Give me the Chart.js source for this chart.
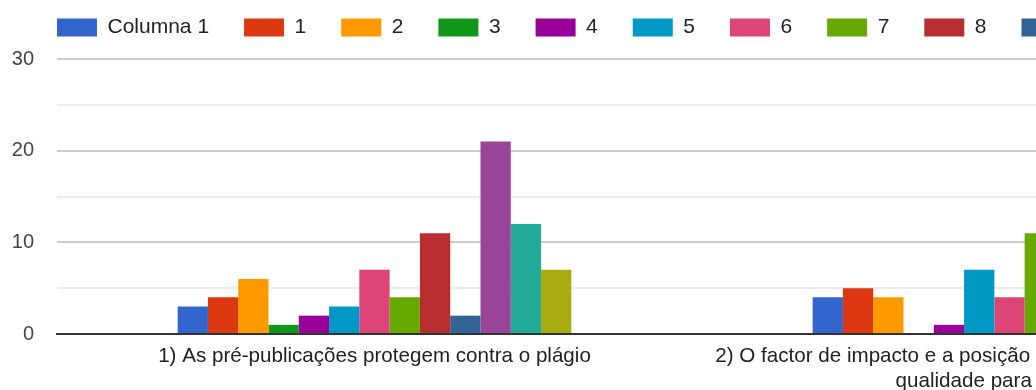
<!DOCTYPE html>
<html>
<head>
<meta charset="utf-8">
<script src="https://cdn.jsdelivr.net/npm/chart.js@4"></script>
<style>
  html, body { margin: 0; padding: 0; background: #fff; overflow: hidden; }
  #wrap { position: relative; width: 1527px; height: 390px; }
</style>
</head>
<body>
<div id="wrap"><canvas id="c"></canvas></div>
<script>
// ===== Grouped columns (cropped Google-style chart) =====
const categories = [
    '1) As pré-publicações protegem contra o plágio',
    ['2) O factor de impacto e a posição da revista são indicadores de', 'qualidade para um artigo']
];
const seriesNames = ['Columna 1', '1', '2', '3', '4', '5', '6', '7', '8', '9', '10', '11', '12'];
const seriesColors = ['#3366cc', '#dc3912', '#ff9900', '#109618', '#990099', '#0099c6', '#dd4477',
    '#66aa00', '#b82e2e', '#316395', '#994499', '#22aa99', '#aaaa11'];
// one value per category for each series
const q1Values = [3, 4, 6, 1, 2, 3, 7, 4, 11, 2, 21, 12, 7];
const q2Values = [4, 5, 4, 0, 1, 7, 4, 11, 5, 3, 2, 1, 0];
const yTicks = [0, 10, 20, 30];

const FONT = "'Liberation Sans', Arial, sans-serif";

const datasets = seriesNames.map((name, i) => ({
    label: name,
    data: [q1Values[i], q2Values[i]],
    backgroundColor: seriesColors[i],
    borderColor: seriesColors[i],
    borderWidth: 0,
    barPercentage: 1,
    categoryPercentage: 0.62
}));

// legend starts at the plot's left edge, not the canvas edge
const legendShift = {
    id: 'legendShift',
    afterLayout(chart) {
        if (chart.legend) chart.legend.left = 22;
    }
};

new Chart(document.getElementById('c').getContext('2d'), {
    type: 'bar',
    data: { labels: categories, datasets },
    plugins: [legendShift],
    options: {
        responsive: true,
        maintainAspectRatio: false,
        animation: false,
        layout: { padding: { left: 0, right: 0, top: -18, bottom: 0 } },
        plugins: {
            tooltip: { enabled: false },
            legend: {
                position: 'top',
                align: 'start',
                labels: { boxWidth: 40, boxHeight: 18, padding: 35, color: '#222', font: { family: FONT, size: 21 } }
            }
        },
        scales: {
            x: {
                position: 'bottom',
                z: 1,
                grid: { display: false, drawTicks: false },
                border: { display: true, color: '#333', width: 2 },
                ticks: { color: '#222', padding: 10, maxRotation: 0, autoSkip: false,
                    font: { family: FONT, size: 20.6, lineHeight: '25px' } },
                afterFit: s => { s.height = 56; }
            },
            xTop: {
                type: 'linear',
                position: 'top',
                grid: { display: false },
                border: { display: false },
                ticks: { display: false },
                afterFit: s => { s.height = 11; }
            },
            y: {
                min: 0,
                max: 30,
                border: { display: false },
                grid: {
                    drawTicks: false,
                    lineWidth: 2,
                    color: c => c.tick.value === 0 ? 'rgba(0,0,0,0)' : (yTicks.includes(c.tick.value) ? '#cccccc' : '#ececec')
                },
                ticks: { stepSize: 5, padding: 23, color: '#444', font: { family: FONT, size: 20 },
                    callback: v => yTicks.includes(v) ? v : '' },
                afterFit: s => { s.width = 57; }
            },
            y2: {
                type: 'linear',
                position: 'right',
                grid: { display: false },
                border: { display: false },
                ticks: { display: false },
                afterFit: s => { s.width = 200; }
            }
        }
    }
});
</script>
</body>
</html>
